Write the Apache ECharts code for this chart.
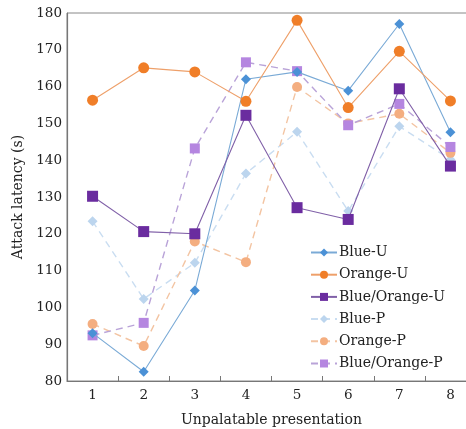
<!DOCTYPE html>
<html>
<head>
<meta charset="utf-8">
<script src="https://cdn.jsdelivr.net/npm/echarts@6/dist/echarts.min.js"></script>
<style>
  html, body { margin: 0; padding: 0; background: #fff; }
  #chart { width: 466px; height: 429px; }
</style>
</head>
<body>
<div id="chart"></div>
<script>
// Unpalatable presentation number
const categories = ['1', '2', '3', '4', '5', '6', '7', '8'];

// Attack latency (s) per group
const blueU        = [93.0, 82.5, 104.6, 162.0, 164.0, 158.9, 177.0, 147.6];
const orangeU      = [156.3, 165.1, 164.0, 156.0, 178.0, 154.3, 169.6, 156.1];
const blueOrangeU  = [130.2, 120.6, 120.0, 152.2, 127.1, 123.9, 159.4, 138.4];
const blueP        = [123.4, 102.3, 112.1, 136.4, 147.7, 126.2, 149.2, 140.2];
const orangeP      = [95.5, 89.5, 117.9, 112.3, 159.9, 150.0, 152.6, 142.0];
const blueOrangeP  = [92.4, 95.8, 143.2, 166.6, 164.2, 149.5, 155.3, 143.6];

const serif = '"DejaVu Serif", "Liberation Serif", serif';

function solid(name, data, color, lineColor, symbol, size) {
  return {
    name, type: 'line', data,
    symbol, symbolSize: size,
    itemStyle: { color },
    lineStyle: { color: lineColor, width: 1.1, type: 'solid' },
    z: 3
  };
}
function dashed(name, data, color, lineColor, symbol, size) {
  return {
    name, type: 'line', data,
    symbol, symbolSize: size,
    itemStyle: { color },
    lineStyle: { color: lineColor, width: 1.4, type: [7, 5] },
    z: 2
  };
}

const chart = echarts.init(document.getElementById('chart'), null, { renderer: 'canvas' });
chart.setOption({
  animation: false,
  backgroundColor: '#ffffff',
  grid: {
    left: 67, top: 13, width: 409, height: 368,
    outerBoundsMode: 'none',
    show: true, borderColor: '#888', borderWidth: 1, backgroundColor: 'transparent'
  },
  legend: {
    orient: 'vertical',
    left: 305, top: 239,
    itemWidth: 26, itemHeight: 10, itemGap: 5.2,
    textStyle: { fontFamily: serif, fontSize: 14, color: '#222', padding: [0, 0, 0, -3], lineHeight: 17 },
    data: ['Blue-U', 'Orange-U', 'Blue/Orange-U', 'Blue-P', 'Orange-P', 'Blue/Orange-P']
  },
  xAxis: {
    type: 'category',
    data: categories,
    boundaryGap: true,
    name: 'Unpalatable presentation',
    nameLocation: 'middle',
    nameGap: 32,
    nameTextStyle: { fontFamily: serif, fontSize: 14, color: '#222' },
    axisLine: { lineStyle: { color: '#777', width: 1.2 } },
    axisTick: { show: true, inside: true, length: 5, lineStyle: { color: '#777' } },
    axisLabel: { fontFamily: serif, fontSize: 13.5, color: '#222', margin: 7 },
    splitLine: { show: false }
  },
  yAxis: {
    type: 'value',
    min: 80, max: 180, interval: 10,
    name: 'Attack latency (s)',
    nameLocation: 'middle',
    nameGap: 38,
    nameRotate: 90,
    nameTextStyle: { fontFamily: serif, fontSize: 14, color: '#222' },
    axisLine: { show: true, lineStyle: { color: '#777', width: 1.2 } },
    axisTick: { show: false },
    axisLabel: { fontFamily: serif, fontSize: 13.5, color: '#222', margin: 5 },
    splitLine: { show: false }
  },
  series: [
    dashed('Blue-P', blueP, '#bcd5ee', '#c9ddf1', 'diamond', 10),
    dashed('Orange-P', orangeP, '#f4ae80', '#f3c4a2', 'circle', 10),
    dashed('Blue/Orange-P', blueOrangeP, '#b586e0', '#b9a3d8', 'rect', 10),
    solid('Blue-U', blueU, '#4b91d6', '#7aaad6', 'diamond', 10),
    solid('Orange-U', orangeU, '#f07e28', '#eea06a', 'circle', 11),
    solid('Blue/Orange-U', blueOrangeU, '#6a2c9f', '#8060a8', 'rect', 11)
  ]
});
</script>
</body>
</html>
